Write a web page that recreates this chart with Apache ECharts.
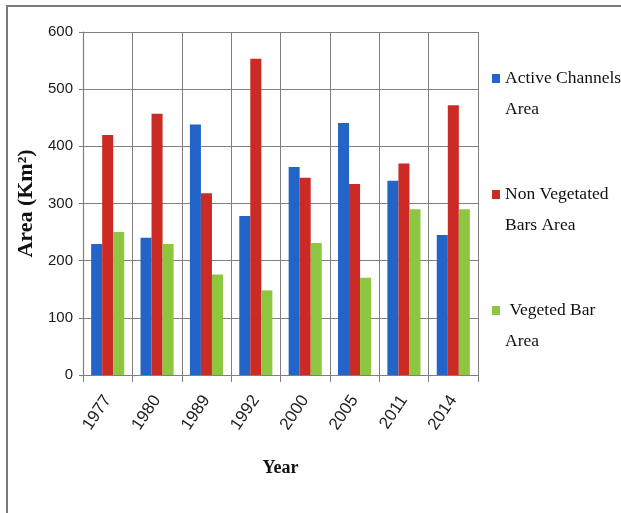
<!DOCTYPE html>
<html>
<head>
<meta charset="utf-8">
<script src="https://cdn.jsdelivr.net/npm/echarts@6/dist/echarts.min.js"></script>
<style>
  html, body { margin: 0; padding: 0; background: #ffffff; }
  #chart { width: 621px; height: 513px; }
</style>
</head>
<body>
<div id="chart"></div>
<script>
// Survey years on the category axis
const years = ['1977', '1980', '1989', '1992', '2000', '2005', '2011', '2014'];

// Areas in km² for each land class
const activeChannels = [229, 240, 438, 278, 364, 441, 340, 245];
const nonVegetatedBars = [420, 457, 318, 553, 345, 334, 370, 472];
const vegetedBar = [250, 229, 176, 148, 231, 170, 290, 290];

// Legend labels, wrapped onto two lines
const seriesNames = ['Active Channels\nArea', 'Non Vegetated\nBars Area', ' Vegeted Bar\nArea'];

// Value axis ticks
const yTicks = [0, 100, 200, 300, 400, 500, 600];

const colors = ['#2364c8', '#cb2a25', '#8dc63f'];

// Legend marker: a small square sitting beside the first text line
const markerIcon = 'path://M0 0H0.01M0 11H8V20H0ZM0 62H0.01';

const chart = echarts.init(document.getElementById('chart'), null, { renderer: 'canvas' });

const gridColor = '#808080';

chart.setOption({
  animation: false,
  backgroundColor: '#ffffff',
  color: colors,
  grid: { left: 83, right: 143, top: 32, bottom: 138, containLabel: false },
  legend: {
    orient: 'vertical',
    left: 487,
    top: 58,
    itemWidth: 8,
    itemHeight: 62,
    itemGap: 54,
    icon: markerIcon,
    itemStyle: { borderWidth: 0 },
    textStyle: {
      fontFamily: 'Liberation Serif, serif',
      fontSize: 17.5,
      lineHeight: 31,
      color: '#111',
      padding: [0, 0, 0, 0]
    },
    data: seriesNames
  },
  xAxis: {
    type: 'category',
    data: years,
    name: 'Year',
    nameLocation: 'middle',
    nameGap: 84,
    nameTextStyle: {
      fontFamily: 'Liberation Serif, serif',
      fontWeight: 'bold',
      fontSize: 18,
      color: '#111'
    },
    axisLine: { show: true, lineStyle: { color: gridColor, width: 1.2 } },
    axisTick: { show: true, length: 7, lineStyle: { color: gridColor } },
    axisLabel: {
      rotate: 56,
      margin: 22,
      fontFamily: 'Liberation Sans, Arial, sans-serif',
      fontSize: 17,
      color: '#222'
    },
    splitLine: { show: true, lineStyle: { color: gridColor, width: 1 } }
  },
  yAxis: {
    type: 'value',
    min: yTicks[0],
    max: yTicks[yTicks.length - 1],
    interval: yTicks[1] - yTicks[0],
    name: 'Area (Km²)',
    nameLocation: 'middle',
    nameGap: 40,
    nameTextStyle: {
      fontFamily: 'Liberation Serif, serif',
      fontWeight: 'bold',
      fontSize: 22,
      color: '#111'
    },
    axisLine: { show: true, lineStyle: { color: gridColor, width: 1.2 } },
    axisTick: { show: true, length: 4, lineStyle: { color: gridColor } },
    axisLabel: {
      margin: 10,
      fontFamily: 'Liberation Sans, Arial, sans-serif',
      fontSize: 15,
      color: '#1a1a1a'
    },
    splitLine: { show: true, lineStyle: { color: gridColor, width: 1.2 } }
  },
  series: [
    { name: seriesNames[0], type: 'bar', data: activeChannels, barGap: '0%', barCategoryGap: '33%' },
    { name: seriesNames[1], type: 'bar', data: nonVegetatedBars, barGap: '0%', barCategoryGap: '33%' },
    { name: seriesNames[2], type: 'bar', data: vegetedBar, barGap: '0%', barCategoryGap: '33%' }
  ],
  graphic: [
    {
      type: 'polyline',
      silent: true,
      shape: { points: [[7, 513], [7, 6], [621, 6]] },
      style: { stroke: '#7a7a7a', lineWidth: 2, fill: null }
    }
  ]
});
</script>
</body>
</html>
